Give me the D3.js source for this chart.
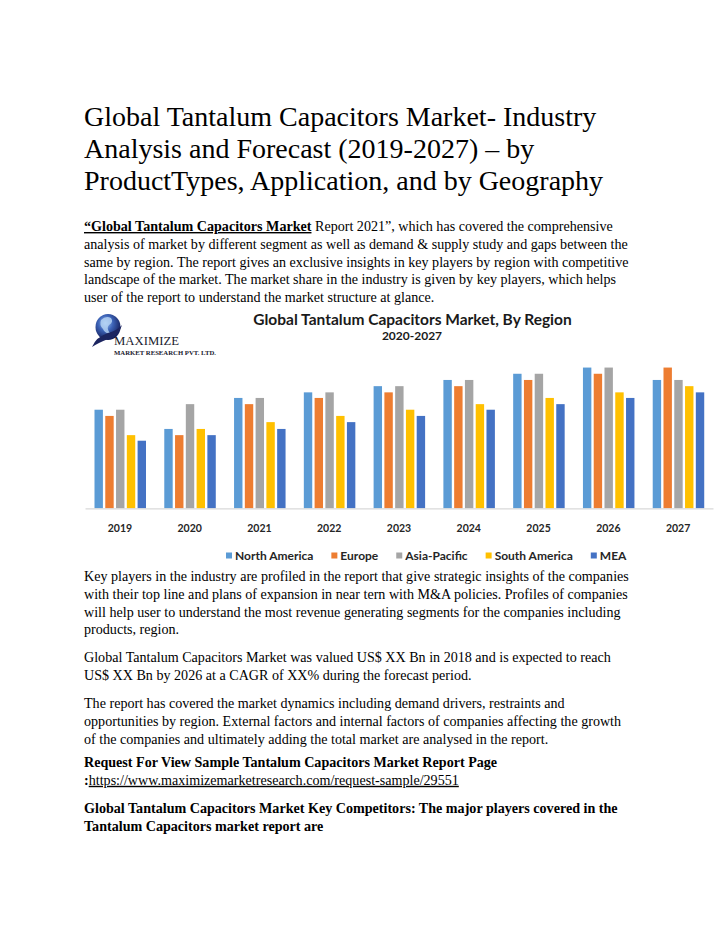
<!DOCTYPE html>
<html>
<head>
<meta charset="utf-8">
<script src="https://cdn.jsdelivr.net/npm/d3@7"></script>
<style>
  html, body { margin: 0; padding: 0; background: #fff; }
  svg { display: block; }
</style>
</head>
<body>
<svg id="page" width="720" height="931"></svg>
<script>
// ---------------- data ----------------
const years = ["2019","2020","2021","2022","2023","2024","2025","2026","2027"];
const regions = ["North America","Europe","Asia-Pacific","South America","MEA"];
const northAmerica = [15.9,12.8,17.8,18.7,19.7,20.7,21.7,22.7,20.7];
const europe       = [14.9,11.8,16.8,17.8,18.7,19.7,20.7,21.7,22.7];
const asiaPacific  = [15.9,16.8,17.8,18.7,19.7,20.7,21.7,22.7,20.7];
const southAmerica = [11.8,12.8,13.9,14.9,15.9,16.8,17.8,18.7,19.7];
const mea          = [10.9,11.8,12.8,13.9,14.9,15.9,16.8,17.8,18.7];
const seriesValues = [northAmerica, europe, asiaPacific, southAmerica, mea];
const colors = ["#5B9BD5","#ED7D31","#A5A5A5","#FFC000","#4472C4"];

const chartTitle = "Global Tantalum Capacitors Market, By Region";
const chartSubtitle = "2020-2027";

const titleLines = [
  "Global Tantalum Capacitors Market- Industry",
  "Analysis and Forecast (2019-2027) \u2013 by",
  "ProductTypes, Application, and by Geography"
];

// body paragraphs: each line is a list of [text, style] runs
const para1 = [
  [["\u201CGlobal Tantalum Capacitors Market","bu"],[" Report 2021\u201D, which has covered the comprehensive",""]],
  [["analysis of market by different segment as well as demand & supply study and gaps between the",""]],
  [["same by region. The report gives an exclusive insights in key players by region with competitive",""]],
  [["landscape of the market. The market share in the industry is given by key players, which helps",""]],
  [["user of the report to understand the market structure at glance.",""]]
];
const para2 = [
  [["Key players in the industry are profiled in the report that give strategic insights of the companies",""]],
  [["with their top line and plans of expansion in near tern with M&A policies. Profiles of companies",""]],
  [["will help user to understand the most revenue generating segments for the companies including",""]],
  [["products, region.",""]]
];
const para3 = [
  [["Global Tantalum Capacitors Market was valued US$ XX Bn in 2018 and is expected to reach",""]],
  [["US$ XX Bn by 2026 at a CAGR of XX% during the forecast period.",""]]
];
const para4 = [
  [["The report has covered the market dynamics including demand drivers, restraints and",""]],
  [["opportunities by region. External factors and internal factors of companies affecting the growth",""]],
  [["of the companies and ultimately adding the total market are analysed in the report.",""]]
];
const para5 = [
  [["Request For View Sample Tantalum Capacitors Market Report Page","b"]],
  [[":","b"],["https://www.maximizemarketresearch.com/request-sample/29551","u"]]
];
const para6 = [
  [["Global Tantalum Capacitors Market Key Competitors: The major players covered in the","b"]],
  [["Tantalum Capacitors market report are","b"]]
];

// ---------------- drawing ----------------
const svg = d3.select("#page");
const serif = "'Liberation Serif','Times New Roman',Times,serif";
const sans = "Lato,'Open Sans',sans-serif";

// page title
svg.append("g").selectAll("text").data(titleLines).join("text")
  .attr("x", 84).attr("y", (d,i) => 126 + i*32)
  .attr("font-family", serif).attr("font-size", 28).attr("fill", "#000")
  .text(d => d);

function drawPara(lines, y0) {
  const lh = 17.8;
  const g = svg.append("g").attr("font-family", serif).attr("font-size", 14.1).attr("fill","#000");
  lines.forEach((runs, i) => {
    const t = g.append("text").attr("x", 84).attr("y", y0 + i*lh).attr("xml:space","preserve");
    runs.forEach(([txt, st]) => {
      const ts = t.append("tspan").text(txt);
      if (st.includes("b")) ts.attr("font-weight","bold");
      if (st.includes("u")) ts.attr("text-decoration","underline");
    });
  });
}
drawPara(para1, 231);
drawPara(para2, 581);
drawPara(para3, 662);
drawPara(para4, 708);
drawPara(para5, 767);
drawPara(para6, 813);

// ---------------- logo ----------------
const defs = svg.append("defs");
const rg = defs.append("radialGradient").attr("id","globe").attr("cx","40%").attr("cy","35%").attr("r","65%");
rg.append("stop").attr("offset","0%").attr("stop-color","#9ec3f0");
rg.append("stop").attr("offset","45%").attr("stop-color","#3d64b8");
rg.append("stop").attr("offset","100%").attr("stop-color","#141e5a");
const logo = svg.append("g");
logo.append("ellipse").attr("cx",108).attr("cy",327).attr("rx",12.5).attr("ry",13).attr("fill","url(#globe)");
logo.append("path").attr("d","M101,320 q5,-5 10,-2 q3,4 -2,7 q-3,3 1,8 q-5,1 -7,-4 q-4,-4 -2,-9 z").attr("fill","#b9d6f5").attr("opacity",0.8);
logo.append("path").attr("d","M92,347 q4,-10 16,-14 q10,-3 14,-8 q-2,9 -14,14 q-10,4 -16,8 z").attr("fill","#1c2560");
logo.append("text").attr("x",114).attr("y",345)
  .attr("font-family",serif).attr("font-size",12.5).attr("fill","#1a1a2e")
  .attr("textLength",65).attr("lengthAdjust","spacingAndGlyphs").text("MAXIMIZE");
logo.append("text").attr("x",114).attr("y",354.5)
  .attr("font-family",serif).attr("font-weight","bold").attr("font-size",7).attr("fill","#1a1a2e")
  .attr("textLength",102).attr("lengthAdjust","spacingAndGlyphs").text("MARKET RESEARCH PVT. LTD.");

// ---------------- chart ----------------
svg.append("text").attr("x",412.5).attr("y",325).attr("text-anchor","middle")
  .attr("font-family",sans).attr("font-weight","bold").attr("font-size",15.5).attr("fill","#1a1a1a")
  .text(chartTitle);
svg.append("text").attr("x",412).attr("y",340).attr("text-anchor","middle")
  .attr("font-family",sans).attr("font-weight","bold").attr("font-size",12).attr("fill","#1a1a1a")
  .text(chartSubtitle);

const x0 = d3.scaleBand().domain(years).range([85, 713]).paddingInner(0).paddingOuter(0);
const x1 = d3.scaleBand().domain(regions).range([9.5, 61]).paddingInner(0.22).paddingOuter(0);
const y = d3.scaleLinear().domain([0, 25]).range([508.3, 353.3]);
const color = d3.scaleOrdinal().domain(regions).range(colors);

const groups = svg.append("g").selectAll("g").data(years).join("g")
  .attr("transform", d => `translate(${x0(d)},0)`);
groups.selectAll("rect")
  .data((yr, yi) => regions.map((r, ri) => ({region: r, value: seriesValues[ri][yi]})))
  .join("rect")
  .attr("x", d => x1(d.region))
  .attr("width", x1.bandwidth())
  .attr("y", d => y(d.value))
  .attr("height", d => y(0) - y(d.value))
  .attr("fill", d => color(d.region));

const xAxis = svg.append("g").attr("transform", `translate(0,${y(0)})`)
  .call(d3.axisBottom(x0).tickSize(0).tickPadding(16));
xAxis.select(".domain").attr("stroke","#D9D9D9").attr("stroke-width",1.2);
xAxis.selectAll("text").attr("font-family",sans).attr("font-weight","bold")
  .attr("font-size",10.5).attr("fill","#262626");

// legend
const legend = svg.append("g").attr("font-family",sans).attr("font-weight","bold")
  .attr("font-size",12).attr("fill","#262626");
let lx = 226;
regions.forEach((r, i) => {
  legend.append("rect").attr("x", lx).attr("y", 552.5).attr("width", 6).attr("height", 6).attr("fill", color(r));
  const t = legend.append("text").attr("x", lx + 9).attr("y", 559.5).text(r);
  const w = t.node().getComputedTextLength();
  lx += 9 + w + 18;
});
</script>
</body>
</html>
